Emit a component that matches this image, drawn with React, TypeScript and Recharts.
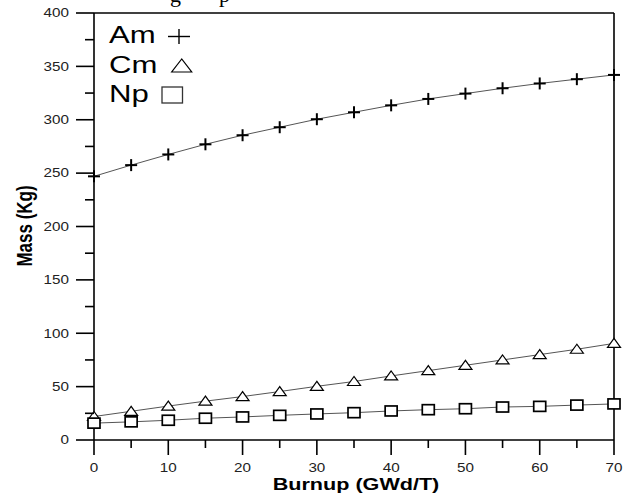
import React from 'react';
import { LineChart, Line, XAxis, YAxis, ReferenceLine } from 'recharts';

const burnup = [0, 5, 10, 15, 20, 25, 30, 35, 40, 45, 50, 55, 60, 65, 70];
const amMass = [247, 257.5, 267.5, 277, 285.5, 293, 300.5, 307, 313.5, 319.5, 324.5, 329.5, 334, 338, 342];
const cmMass = [22, 26.9, 31.8, 36.4, 40.7, 45.4, 50.3, 54.8, 60, 65, 70, 75, 80, 85, 90.5];
const npMass = [15.8, 17, 18.5, 20.4, 21.6, 23.1, 24.4, 25.6, 27.2, 28.4, 29.3, 30.9, 31.5, 32.7, 33.8];

const xTicks = [0, 5, 10, 15, 20, 25, 30, 35, 40, 45, 50, 55, 60, 65, 70];
const yTicks = [0, 25, 50, 75, 100, 125, 150, 175, 200, 225, 250, 275, 300, 325, 350, 375, 400];

const data = burnup.map((b, i) => ({ burnup: b, am: amMass[i], cm: cmMass[i], np: npMass[i] }));

const SX = 1.27;
const FONT = '"Liberation Sans", Arial, sans-serif';

function XTick(props: any) {
  const { x, y, payload } = props;
  const v = payload.value;
  const major = v % 10 === 0;
  return (
    <g>
      <line x1={x} y1={y} x2={x} y2={y + (major ? 15 : 8)} stroke="#000" strokeWidth={1.6} />
      {major && (
        <text transform={`translate(${x},${y + 32}) scale(${SX},1)`} textAnchor="middle" fontSize={12} fill="#222" fontFamily={FONT}>
          {v}
        </text>
      )}
    </g>
  );
}

function YTick(props: any) {
  const { x, y, payload } = props;
  const v = payload.value;
  const major = v % 50 === 0;
  return (
    <g>
      <line x1={x} y1={y} x2={x - (major ? 18 : 9)} y2={y} stroke="#000" strokeWidth={1.6} />
      {major && (
        <text transform={`translate(${x - 25},${y + 4.3}) scale(${SX},1)`} textAnchor="end" fontSize={12} fill="#222" fontFamily={FONT}>
          {v}
        </text>
      )}
    </g>
  );
}

const PlusDot = (p: any) => {
  const { cx, cy, index } = p;
  return (
    <g key={`am-${index}`}>
      <line x1={cx - 6} y1={cy} x2={cx + 6} y2={cy} stroke="#000" strokeWidth={2} />
      <line x1={cx} y1={cy - 6} x2={cx} y2={cy + 6} stroke="#000" strokeWidth={2} />
    </g>
  );
};

const TriDot = (p: any) => {
  const { cx, cy, index } = p;
  return (
    <polygon
      key={`cm-${index}`}
      points={`${cx},${cy - 5} ${cx - 6.5},${cy + 4} ${cx + 6.5},${cy + 4}`}
      fill="#fff"
      stroke="#000"
      strokeWidth={1.2}
    />
  );
};

const SqDot = (p: any) => {
  const { cx, cy, index } = p;
  return <rect key={`np-${index}`} x={cx - 6} y={cy - 5} width={12} height={10} fill="#fff" stroke="#000" strokeWidth={1.7} />;
};

export default function App() {
  return (
    <div style={{ position: 'absolute', left: 0, top: 0, width: 632, height: 495, background: '#fff' }}>
      <LineChart width={632} height={495} data={data} margin={{ top: 13, right: 18, bottom: 25, left: 34 }}>
        <XAxis
          dataKey="burnup"
          type="number"
          domain={[0, 70]}
          ticks={xTicks}
          tick={<XTick />}
          tickLine={false}
          tickSize={0}
          tickMargin={0}
          height={30}
          axisLine={{ stroke: '#000', strokeWidth: 1.6 }}
          interval={0}
        />
        <YAxis
          type="number"
          domain={[0, 400]}
          ticks={yTicks}
          tick={<YTick />}
          tickLine={false}
          tickSize={0}
          tickMargin={0}
          width={60}
          axisLine={{ stroke: '#000', strokeWidth: 1.6 }}
          interval={0}
        />
        <ReferenceLine y={400} stroke="#000" strokeWidth={1.6} />
        <ReferenceLine x={70} stroke="#000" strokeWidth={1.6} />
        <Line dataKey="am" stroke="#555" strokeWidth={1} dot={PlusDot} isAnimationActive={false} />
        <Line dataKey="cm" stroke="#555" strokeWidth={1} dot={TriDot} isAnimationActive={false} />
        <Line dataKey="np" stroke="#555" strokeWidth={1} dot={SqDot} isAnimationActive={false} />
      </LineChart>
      <svg width={632} height={495} style={{ position: 'absolute', left: 0, top: 0, pointerEvents: 'none' }}>
        <text x={170} y={2} fontFamily='"Liberation Serif", "Times New Roman", serif' fontSize={22} fill="#000">g</text>
        <text x={219} y={2} fontFamily='"Liberation Serif", "Times New Roman", serif' fontSize={22} fill="#000">p</text>
        <text transform={`translate(109,42.7) scale(${SX},1)`} fontSize={24.5} fontFamily={FONT} fill="#000">Am</text>
        <line x1={168} y1={36.5} x2={190} y2={36.5} stroke="#000" strokeWidth={1.4} />
        <line x1={179} y1={29} x2={179} y2={44} stroke="#000" strokeWidth={1.4} />
        <text transform={`translate(109,72.7) scale(${SX},1)`} fontSize={24.5} fontFamily={FONT} fill="#000">Cm</text>
        <polygon points="181.7,59 171.7,72 191.7,72" fill="none" stroke="#000" strokeWidth={1.2} />
        <text transform={`translate(109,101.7) scale(${SX},1)`} fontSize={24.5} fontFamily={FONT} fill="#000">Np</text>
        <rect x={162} y={87} width={20.5} height={16} fill="none" stroke="#333" strokeWidth={1.3} />
        <text transform={`translate(356,490) scale(${SX},1)`} textAnchor="middle" fontSize={17} fontWeight="bold" fontFamily={FONT} fill="#000">
          Burnup (GWd/T)
        </text>
        <text transform={`translate(32,226) scale(${SX},1) rotate(-90)`} textAnchor="middle" fontSize={17} fontWeight="bold" fontFamily={FONT} fill="#000">
          Mass (Kg)
        </text>
      </svg>
    </div>
  );
}
